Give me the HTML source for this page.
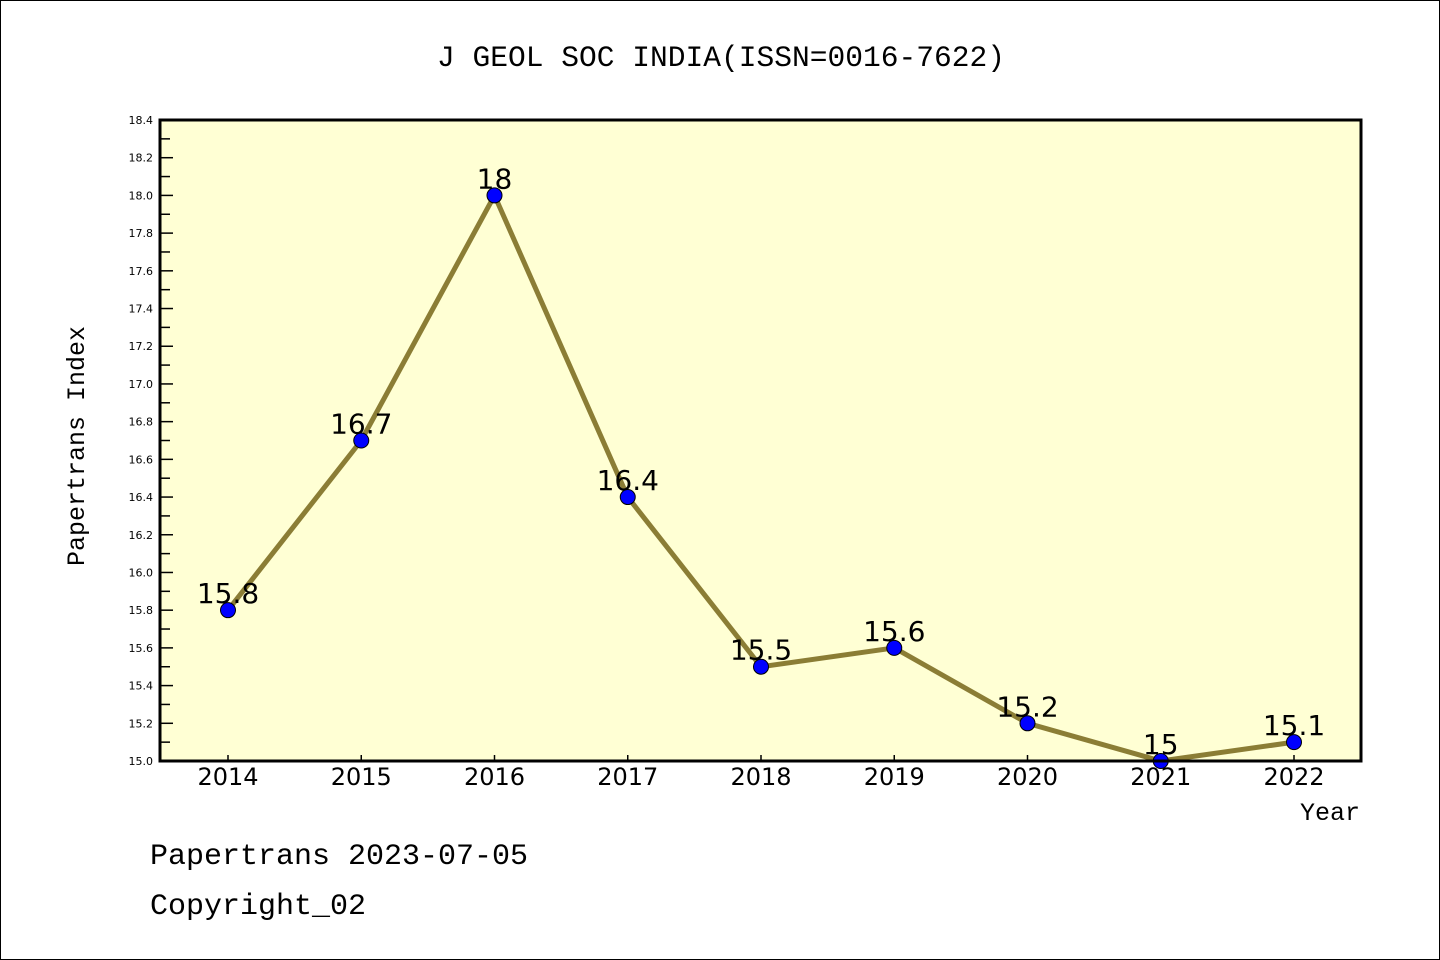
<!DOCTYPE html>
<html><head><meta charset="utf-8"><style>
body{margin:0;background:#fff}
svg{display:block;font-family:"Liberation Mono","Noto Sans CJK SC",monospace}
</style></head><body>
<svg id="c" width="1440" height="960" xmlns="http://www.w3.org/2000/svg">
<rect x="0.5" y="0.5" width="1439" height="959" fill="#fff" stroke="#000"/>
<text x="437" y="66" font-size="30" textLength="568" lengthAdjust="spacingAndGlyphs">J GEOL SOC INDIA(ISSN=0016-7622)</text>
<rect x="160" y="120" width="1201" height="641" fill="#ffffd4"/>
<g id="g"></g>
<rect x="160" y="120" width="1201" height="641" fill="none" stroke="#000" stroke-width="3"/>
<text transform="translate(84,446) rotate(-90)" font-size="25" text-anchor="middle">Papertrans Index</text>
<text x="1360" y="820" font-size="25" text-anchor="end">Year</text>
<text x="150" y="864" font-size="30">Papertrans 2023-07-05</text>
<text x="150" y="914" font-size="30">Copyright_02</text>
</svg>
<script>
const years=[2014,2015,2016,2017,2018,2019,2020,2021,2022];
const values=[15.8,16.7,18,16.4,15.5,15.6,15.2,15,15.1];
const labels=["15.8","16.7","18","16.4","15.5","15.6","15.2","15","15.1"];
const yTicks=[15.0,15.2,15.4,15.6,15.8,16.0,16.2,16.4,16.6,16.8,17.0,17.2,17.4,17.6,17.8,18.0,18.2,18.4];
const NS="http://www.w3.org/2000/svg";
const g=document.getElementById('g');
const x=v=>228+(v-2014)*133.25;
const y=v=>761-(v-15)*(641/3.4);
function mk(t,a,p){const e=document.createElementNS(NS,t);for(const k in a)e.setAttribute(k,a[k]);(p||g).appendChild(e);return e;}
yTicks.forEach((t,i)=>{
  const l=mk('line',{x1:160,x2:173,y1:y(t),y2:y(t),stroke:'#000','stroke-width':1.5});
  
  
  const m=mk('line',{x1:160,x2:170,y1:y(t+0.1),y2:y(t+0.1),stroke:'#000','stroke-width':1.5});
  
  
  if(i===yTicks.length-1)m.remove();
  const tx=mk('text',{x:153,y:y(t)+4,'font-size':11,'text-anchor':'end','font-family':'DejaVu Sans, sans-serif'});
  tx.textContent=t.toFixed(1);
  
  
});
years.forEach(yr=>{
  const l=mk('line',{x1:x(yr),x2:x(yr),y1:761,y2:755,stroke:'#000','stroke-width':1.5});
  
  
  const t=mk('text',{x:x(yr),y:785,'font-size':24,'text-anchor':'middle','font-family':'DejaVu Sans, sans-serif'});
  t.textContent=yr;
  
  
});
const line=mk('polyline',{points:years.map((yr,i)=>x(yr)+','+y(values[i])).join(' '),fill:'none',stroke:'#8b7d35','stroke-width':5});


years.forEach((yr,i)=>{
  const c=mk('circle',{cx:x(yr),cy:y(values[i]),r:7.5,fill:'#0000ff',stroke:'#000','stroke-width':1});
  
  
  const t=mk('text',{x:x(yr),y:y(values[i])-7,'font-size':28,'text-anchor':'middle','font-family':'DejaVu Sans, sans-serif'});
  t.textContent=labels[i];
  
  
});
</script>
</body></html>
